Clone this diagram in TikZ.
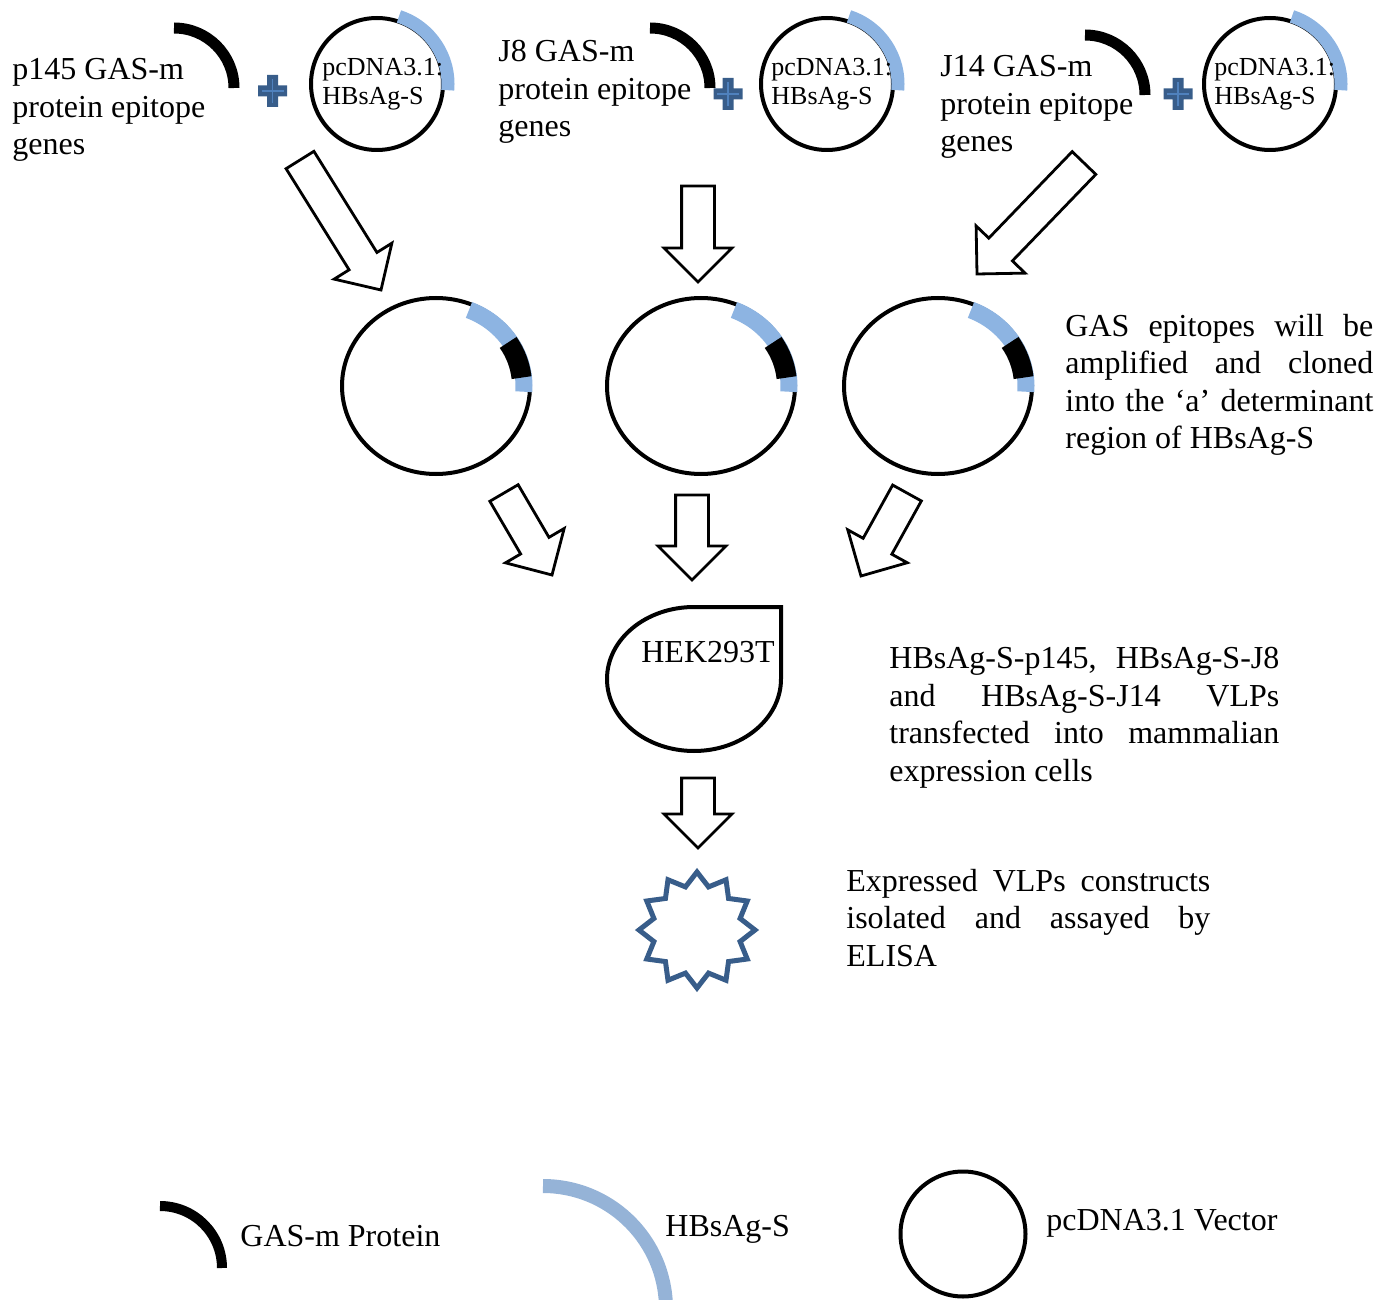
\documentclass[tikz,border=0pt]{standalone}
\usepackage{fontspec}
\setmainfont{Liberation Serif}
\usetikzlibrary{calc, shapes.geometric}
\definecolor{hbsblue}{HTML}{8DB4E2}
\definecolor{hbslight}{HTML}{95B3D7}
\definecolor{plusblue}{HTML}{385D8A}
\definecolor{plusline}{HTML}{4F81BD}

% block arrow from tail coordinate #1 to tip coordinate #2
\newcommand{\shaftw}{8.2pt}
\newcommand{\headw}{17pt}
\newcommand{\headl}{17pt}
\newcommand{\blockarrow}[2]{%
  \coordinate (#2-base) at ($(#2)!\headl!(#1)$);
  \draw[blockarr]
    ($(#1)!\shaftw!90:(#2)$) -- ($(#2-base)!\shaftw!-90:(#1)$)
    -- ($(#2-base)!\headw!-90:(#1)$) -- (#2)
    -- ($(#2-base)!\headw!90:(#1)$) -- ($(#2-base)!\shaftw!90:(#1)$)
    -- ($(#1)!\shaftw!-90:(#2)$) -- cycle;}
% plus sign at coordinate #1
\newcommand{\plussign}[1]{%
  \fill[plusblue] ($(#1)+(-14.5,-5.5)$) rectangle ($(#1)+(14.5,5.5)$)
                  ($(#1)+(-5.5,-16)$) rectangle ($(#1)+(5.5,16)$);
  \draw[plusline, line width=0.7pt] ($(#1)+(-11,0)$) -- ($(#1)+(11,0)$)
                  ($(#1)+(0,-12)$) -- ($(#1)+(0,12)$);}

\begin{document}
\begin{tikzpicture}[x=0.5pt, y=-0.5pt,
    lbl/.style={inner sep=0pt, font=\fontsize{16}{18.75}\selectfont},
    vtext/.style={inner sep=0pt, align=left, font=\fontsize{13}{14.5}\selectfont},
    vector/.style={circle, draw, line width=2pt, minimum size=66pt, inner sep=0pt},
    recomb/.style={ellipse, draw, line width=2pt, minimum width=94pt,
                   minimum height=88pt, inner sep=0pt},
    genearc/.style={line width=5.5pt},
    hbsarc/.style={hbsblue, line width=6.5pt},
    blockarr/.style={draw, fill=white, line width=1.4pt, line join=miter},
    cell/.style={draw, line width=2pt},
    vlp/.style={star, star points=12, star point ratio=1.3, draw=plusblue,
                line width=2.5pt, minimum size=58pt, inner sep=0pt},
  ]
  \useasboundingbox (0,0) rectangle (1383,1300);

  % ── Row 1: epitope genes + pcDNA3.1:HBsAg-S ──
  \node[lbl, anchor=west, align=left] (gene1) at (12,110)
        {p145 GAS-m\\protein epitope\\genes};
  \node[lbl, anchor=west, align=left] (gene2) at (498,92)
        {J8 GAS-m\\protein epitope\\genes};
  \node[lbl, anchor=west, align=left] (gene3) at (940,107)
        {J14 GAS-m\\protein epitope\\genes};

  \coordinate (gas1) at (174,88);
  \coordinate (gas2) at (650,88);
  \coordinate (gas3) at (1085,95);
  \foreach \g in {gas1,gas2,gas3}
    \draw[genearc] ([shift={(-90:60)}]\g) arc[start angle=-90, end angle=0, radius=60];

  \coordinate (plus1) at (272.5,91);
  \coordinate (plus2) at (728,94);
  \coordinate (plus3) at (1178,94);
  \plussign{plus1} \plussign{plus2} \plussign{plus3}

  \node[vector] (vec1) at (377,84) {};
  \node[vector] (vec2) at (827,84) {};
  \node[vector] (vec3) at (1270,84) {};
  \foreach \v in {vec1,vec2,vec3}
    \draw[hbsarc] ([shift={(-72:71)}]\v.center) arc[start angle=-72, end angle=5, radius=71];
  \node[vtext, anchor=west] (vec1txt) at (322,84) {pcDNA3.1:\\HBsAg-S};
  \node[vtext, anchor=west] (vec2txt) at (771,84) {pcDNA3.1:\\HBsAg-S};
  \node[vtext, anchor=west] (vec3txt) at (1214,84) {pcDNA3.1:\\HBsAg-S};

  % ── arrows into the cloning step ──
  \coordinate (a1t) at (300,160);  \coordinate (a1h) at (381,290);
  \coordinate (a2t) at (698,186);  \coordinate (a2h) at (698,282);
  \coordinate (a3t) at (1084,163); \coordinate (a3h) at (977,274);
  \blockarrow{a1t}{a1h} \blockarrow{a2t}{a2h} \blockarrow{a3t}{a3h}

  % ── Row 2: recombinant plasmids ──
  \node[recomb] (rec1) at (436,386) {};
  \node[recomb] (rec2) at (701,386) {};
  \node[recomb] (rec3) at (938,386) {};
  \foreach \r in {rec1,rec2,rec3} {
    \draw[hbsarc, line width=8.5pt] ([shift={(-68:88 and 82)}]\r.center)
      arc[start angle=-68, end angle=4, x radius=88, y radius=82];
    \draw[genearc, line width=10pt] ([shift={(-33:86 and 80)}]\r.center)
      arc[start angle=-33, end angle=-6, x radius=86, y radius=80];
  }
  \node[lbl, anchor=west, text width=154pt, align=justify] (clonetxt) at (1065,385)
        {GAS epitopes will be\linebreak amplified and cloned\linebreak
         into the ‘a’ determinant\linebreak region of HBsAg-S};

  \coordinate (b1t) at (504,493);  \coordinate (b1h) at (552,575);
  \coordinate (b2t) at (692,495);  \coordinate (b2h) at (692,580);
  \coordinate (b3t) at (907,493);  \coordinate (b3h) at (861,576);
  \blockarrow{b1t}{b1h} \blockarrow{b2t}{b2h} \blockarrow{b3t}{b3h}

  % ── Row 3: transfection ──
  \draw[cell] (694,607) -- (781,607) -- (781,679)
    arc[start angle=0, end angle=270, x radius=87, y radius=72] -- cycle;
  \node[lbl] (hek) at (708,652) {HEK293T};
  \node[lbl, anchor=west, text width=195pt, align=justify] (transtxt) at (889,718)
        {HBsAg-S-p145, HBsAg-S-J8\linebreak and HBsAg-S-J14 VLPs\linebreak
         transfected into mammalian\linebreak expression cells};

  \coordinate (c1t) at (698,778);  \coordinate (c1h) at (698,848);
  \blockarrow{c1t}{c1h}

  % ── Row 4: expressed VLPs ──
  \node[vlp] (vlp) at (697,930) {};
  \node[lbl, anchor=west, text width=182pt, align=justify] (elisatxt) at (846,918)
        {Expressed VLPs constructs\linebreak isolated and assayed by\linebreak ELISA};

  % ── legend ──
  \coordinate (lgas) at (160,1268);
  \draw[genearc, line width=5pt] ([shift={(-90:62)}]lgas) arc[start angle=-90, end angle=0, radius=62];
  \node[lbl, anchor=west] (lgastxt) at (240,1236) {GAS-m Protein};
  \coordinate (lhbs) at (543,1309);
  \draw[hbsarc, hbslight, line width=7pt] ([shift={(-90:123)}]lhbs)
    arc[start angle=-90, end angle=-4, radius=123];
  \node[lbl, anchor=west] (lhbstxt) at (665,1229) {HBsAg-S};
  \node[vector, minimum size=62.5pt] (lvec) at (963,1234) {};
  \node[lbl, anchor=west] (lvectxt) at (1046,1223) {pcDNA3.1 Vector};
\end{tikzpicture}
\end{document}
